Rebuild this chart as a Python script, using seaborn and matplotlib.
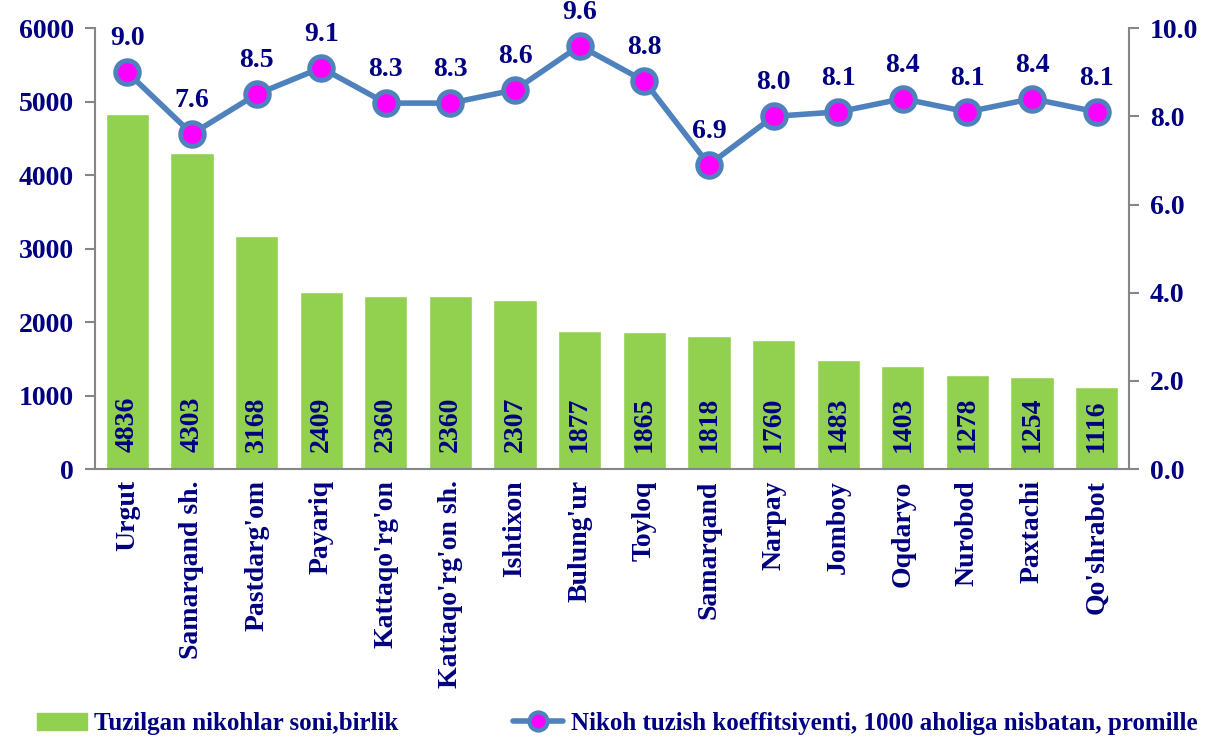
import matplotlib
matplotlib.use("Agg")
import matplotlib.pyplot as plt
import numpy as np
import pandas as pd
import seaborn as sns
from matplotlib.lines import Line2D
from matplotlib.patches import Patch

districts = ["Urgut", "Samarqand sh.", "Pastdarg'om", "Payariq", "Kattaqo'rg'on",
             "Kattaqo'rg'on sh.", "Ishtixon", "Bulung'ur", "Toyloq", "Samarqand",
             "Narpay", "Jomboy", "Oqdaryo", "Nurobod", "Paxtachi", "Qo'shrabot"]
marriages = [4836, 4303, 3168, 2409, 2360, 2360, 2307, 1877, 1865, 1818,
             1760, 1483, 1403, 1278, 1254, 1116]
coef = [9.0, 7.6, 8.5, 9.1, 8.3, 8.3, 8.6, 9.6, 8.8, 6.9,
        8.0, 8.1, 8.4, 8.1, 8.4, 8.1]

bar_label = "Tuzilgan nikohlar soni,birlik"
line_label = "Nikoh tuzish koeffitsiyenti, 1000 aholiga nisbatan, promille"

navy = "#000080"
green = "#92D050"
blue = "#4F81BD"
gray = "#868686"

sns.set_style("white")
plt.rcParams['font.family'] = ['Liberation Serif', 'DejaVu Serif']
plt.rcParams['font.weight'] = 'bold'

df = pd.DataFrame({"district": districts, "marriages": marriages, "coef": coef})

fig = plt.figure(figsize=(12.12, 7.40), dpi=100)
ax = fig.add_axes([0.0784, 0.366, 0.8531, 0.596])

sns.barplot(data=df, x="district", y="marriages", color=green, width=0.67,
            saturation=1, ax=ax)

for i, v in enumerate(marriages):
    ax.text(i, 230, str(v), rotation=90, ha='center', va='bottom',
            color=navy, fontsize=20, fontweight='bold')

ax.set_ylim(0, 6000)
ax.set_yticks(range(0, 6001, 1000))
ax.set_xlim(-0.5, len(districts) - 0.5)
ax.set_xlabel("")
ax.set_ylabel("")
ax.set_xticks(np.arange(len(districts) + 1) - 0.5, minor=False)
ax.set_xticklabels([])
ax.set_xticks(np.arange(len(districts)), minor=True)
ax.set_xticklabels(districts, minor=True, rotation=90, color=navy,
                   fontsize=20, fontweight='bold')
ax.tick_params(axis='x', which='major', length=8, width=1.5, color=gray,
               direction='inout')
ax.tick_params(axis='x', which='minor', length=0, pad=8)
ax.tick_params(axis='y', length=7, width=1.5, color=gray, direction='out',
               labelsize=20, labelcolor=navy, pad=8)
for lab in ax.get_yticklabels():
    lab.set_fontweight('bold')

for side in ['top', 'right']:
    ax.spines[side].set_visible(False)
for side in ['left', 'bottom']:
    ax.spines[side].set_color(gray)
    ax.spines[side].set_linewidth(1.5)

ax2 = ax.twinx()
ax2.plot(np.arange(len(coef)), coef, color=blue, lw=4, marker='o',
         markersize=17, markerfacecolor='magenta', markeredgecolor=blue,
         markeredgewidth=3.5, zorder=5)
for i, v in enumerate(coef):
    ax2.annotate(f"{v:.1f}", (i, v), xytext=(0, 15), textcoords='offset points',
                 ha='center', va='bottom', color=navy, fontsize=20,
                 fontweight='bold')
ax2.set_ylim(0, 10)
ax2.set_yticks(np.arange(0, 10.1, 2))
ax2.set_yticklabels([f"{t:.1f}" for t in np.arange(0, 10.1, 2)])
ax2.tick_params(axis='y', length=7, width=1.5, color=gray, direction='out',
                labelsize=20, labelcolor=navy, pad=8)
for lab in ax2.get_yticklabels():
    lab.set_fontweight('bold')
for side in ['top', 'left', 'bottom']:
    ax2.spines[side].set_visible(False)
ax2.spines['right'].set_color(gray)
ax2.spines['right'].set_linewidth(1.5)

handles = [Patch(facecolor=green, edgecolor=green),
           Line2D([0], [0], color=blue, lw=4, marker='o', markersize=13,
                  markerfacecolor='magenta', markeredgecolor=blue,
                  markeredgewidth=3)]
fig.legend(handles, [bar_label, line_label], loc='center left',
           bbox_to_anchor=(0.022, 0.022), ncol=2, frameon=False,
           labelcolor=navy, columnspacing=4.6, handlelength=2.0,
           handletextpad=0.3, borderaxespad=0,
           prop={'weight': 'bold', 'size': 18})

fig.savefig("out.png", dpi=100)
